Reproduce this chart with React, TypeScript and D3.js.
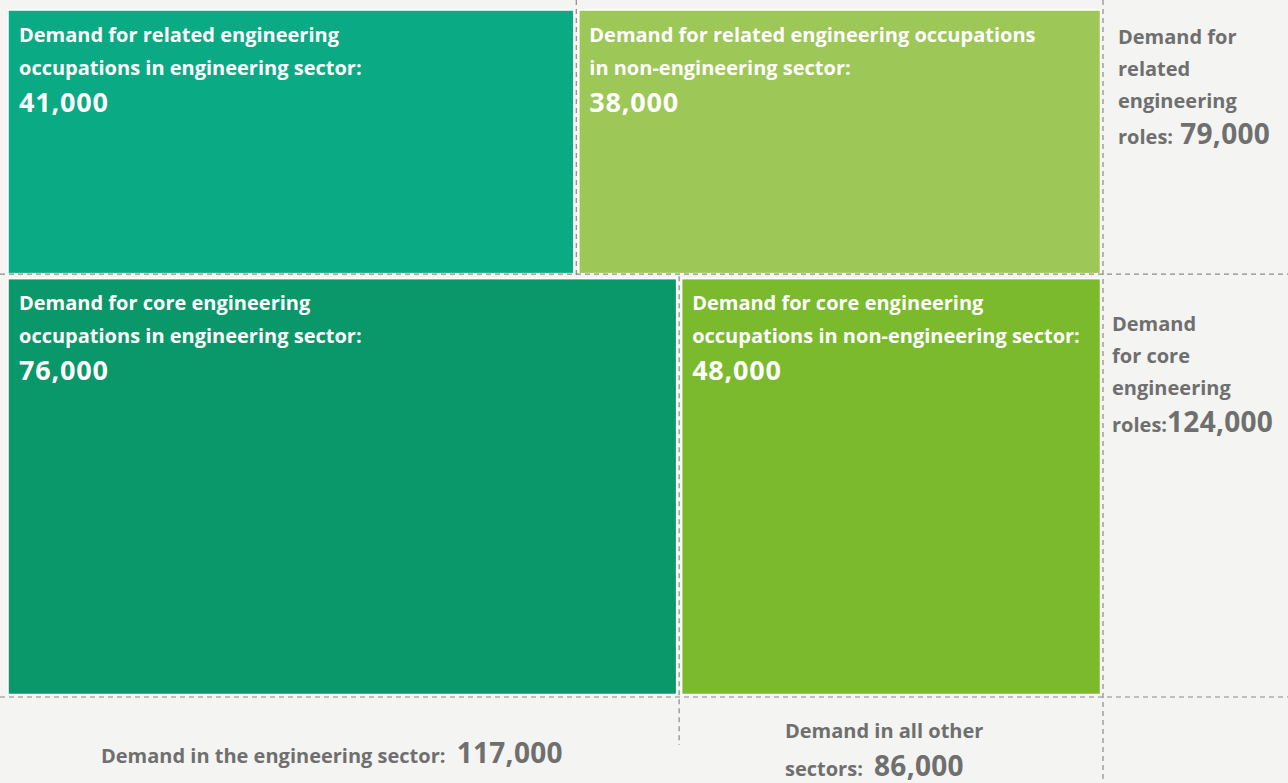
import React from 'react';
import * as d3 from 'd3';

// demand by role type (rows) and sector (columns)
const rows = ['related', 'core'];
const sectors = ['engineering', 'non-engineering'];
const relatedValues = [41000, 38000];
const coreValues = [76000, 48000];

const cellLabels = [
  ['Demand for related engineering', 'occupations in engineering sector:'],
  ['Demand for related engineering occupations', 'in non-engineering sector:'],
  ['Demand for core engineering', 'occupations in engineering sector:'],
  ['Demand for core engineering', 'occupations in non-engineering sector:'],
];

const W = 1288;
const H = 783;
const FONT = '"Open Sans", "Noto Sans", sans-serif';
const GREY = '#6f6f6f';
const colors = ['#0aaa84', '#9dc757', '#0a9769', '#7aba2c'];

const fmt = d3.format(',');

export default function App() {
  const values = [relatedValues, coreValues];
  const rowTotals = values.map(v => d3.sum(v));
  const total = d3.sum(rowTotals);
  const sectorTotals = sectors.map((_, i) => d3.sum(values, v => v[i]));

  const left = 8, right = 1103, top = 8, bottom = 697;
  const y = d3.scaleLinear().domain([0, total]).range([top, bottom]);
  const rowY = [y(0), y(rowTotals[0]), y(total)];

  const cells = values.flatMap((v, r) => {
    const x = d3.scaleLinear().domain([0, rowTotals[r]]).range([left, right]);
    return v.map((val, c) => {
      const x0 = x(c === 0 ? 0 : v[0]);
      const x1 = x(c === 0 ? v[0] : rowTotals[r]);
      return { r, c, val, x0, x1, y0: rowY[r], y1: rowY[r + 1], idx: r * 2 + c };
    });
  });

  const g = 2.5;
  const splitTop = cells[0].x1;
  const splitBottom = cells[2].x1;
  const num = { fontSize: 27, letterSpacing: 0.8 };
  const greyNum = { fontSize: 28, letterSpacing: 0.3 };

  return (
    <div style={{ position: 'fixed', left: 0, top: 0, width: W, height: H, background: '#f4f4f2' }}>
      <svg width={W} height={H} style={{ display: 'block', fontFamily: FONT }}>
        {cells.map(d => (
          <g key={`${rows[d.r]}-${sectors[d.c]}`}>
            <rect
              x={d.x0 + (d.c === 0 ? 0 : g)}
              y={d.y0 + (d.r === 0 ? 2 : g)}
              width={d.x1 - d.x0 - (d.c === 0 ? g : 2 * g)}
              height={d.y1 - d.y0 - (d.r === 0 ? 2 + g : 2 * g)}
              fill={colors[d.idx]}
              stroke="#fff"
              strokeWidth={1.5}
            />
            <text fill="#fff" fontWeight={700} fontSize={20}>
              {cellLabels[d.idx].map((t, i) => (
                <tspan key={i} x={d.x0 + (d.c === 0 ? 11 : 13)} y={d.y0 + 34 + i * 33}>{t}</tspan>
              ))}
              <tspan x={d.x0 + (d.c === 0 ? 11 : 13)} y={d.y0 + 34 + 2 * 33 + 4} {...num}>{fmt(d.val)}</tspan>
            </text>
          </g>
        ))}

        <g stroke="#8a8a8a" strokeWidth={1.2} strokeDasharray="5,4" fill="none">
          <line x1={splitTop} x2={splitTop} y1={0} y2={rowY[1]} />
          <line x1={0} x2={W} y1={rowY[1] - 2} y2={rowY[1] - 2} />
          <line x1={splitBottom} x2={splitBottom} y1={rowY[1]} y2={745} />
          <line x1={0} x2={W} y1={bottom} y2={bottom} />
          <line x1={right} x2={right} y1={0} y2={H} />
        </g>

        <g fill={GREY} fontWeight={700} fontSize={20}>
          <text>
            <tspan x={1118} y={44}>Demand for</tspan>
            <tspan x={1118} y={76}>related</tspan>
            <tspan x={1118} y={108}>engineering</tspan>
            <tspan x={1118} y={144}>roles: <tspan dx={2} {...greyNum}>{fmt(rowTotals[0])}</tspan></tspan>
          </text>
          <text>
            <tspan x={1112} y={331}>Demand</tspan>
            <tspan x={1112} y={363}>for core</tspan>
            <tspan x={1112} y={395}>engineering</tspan>
            <tspan x={1112} y={432}>roles:<tspan {...greyNum}>{fmt(rowTotals[1])}</tspan></tspan>
          </text>
          <text x={101} y={763}>
            Demand in the engineering sector: <tspan dx={6} {...greyNum}>{fmt(sectorTotals[0])}</tspan>
          </text>
          <text>
            <tspan x={785} y={738}>Demand in all other</tspan>
            <tspan x={785} y={776}>sectors: <tspan dx={6} {...greyNum}>{fmt(sectorTotals[1])}</tspan></tspan>
          </text>
        </g>
      </svg>
    </div>
  );
}
